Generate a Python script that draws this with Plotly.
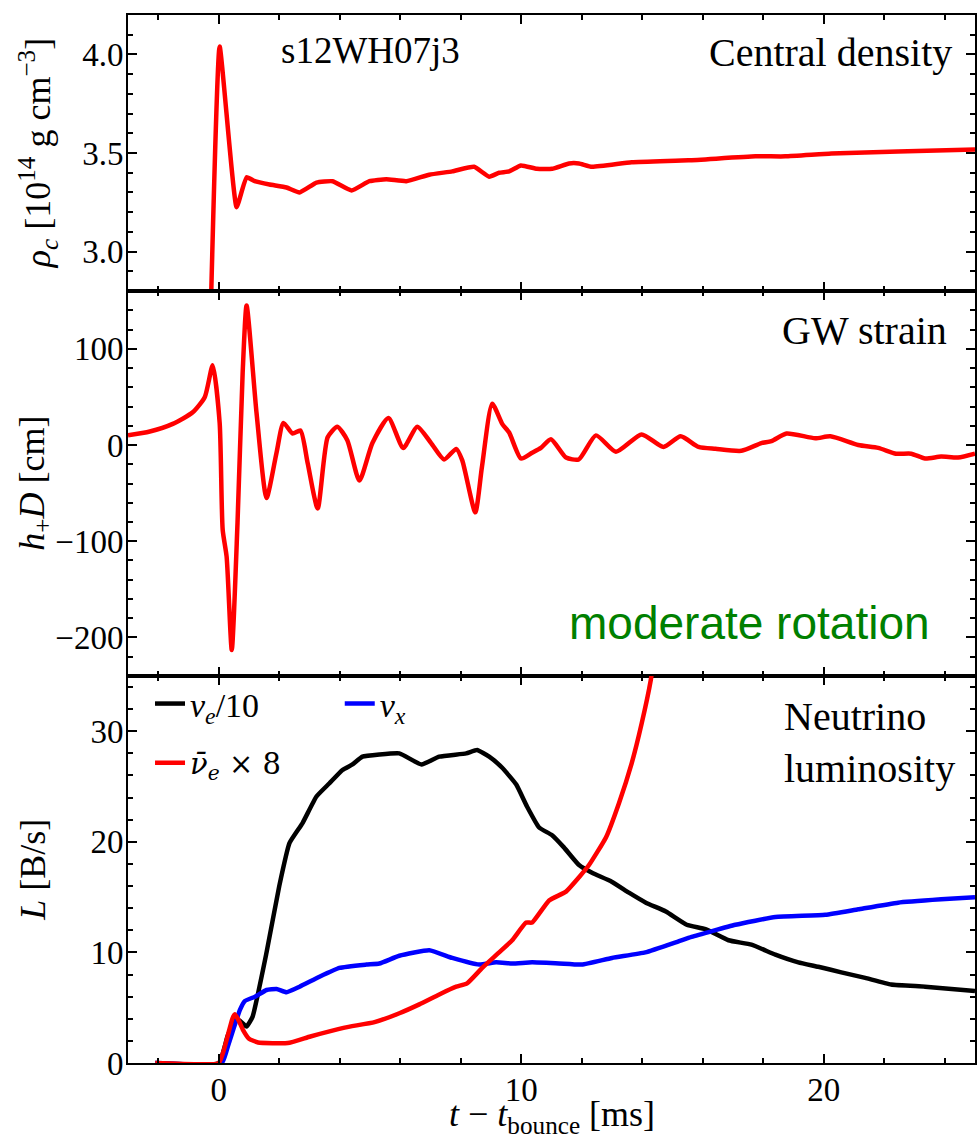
import plotly.graph_objects as go

# ---------------- data ----------------
# Central density [1e14 g/cm^3]
t_rho = [-0.28, 0.03, 0.59, 0.92, 1.19, 1.68, 2.24, 2.67, 3.23, 3.76, 4.39, 4.98, 5.54, 6.20,
         6.96, 7.72, 8.44, 8.94, 9.27, 9.60, 9.99, 10.52, 11.02, 11.58, 11.91, 12.34, 13.65,
         15.53, 17.74, 18.73, 20.25, 22.46, 25.0]
rho_c = [2.60, 4.04, 3.225, 3.377, 3.357, 3.34, 3.325, 3.30, 3.35, 3.357, 3.31, 3.357, 3.367, 3.357,
         3.39, 3.407, 3.43, 3.38, 3.40, 3.407, 3.437, 3.42, 3.42, 3.447, 3.447, 3.43, 3.453,
         3.463, 3.483, 3.483, 3.497, 3.508, 3.518]

# GW strain h+ D [cm]
t_gw = [-3.0, -2.28, -1.52, -0.86, -0.46, -0.2, 0.03, 0.13, 0.26, 0.43, 0.62, 0.79, 0.92,
        1.25, 1.58, 1.91, 2.14, 2.44, 2.70, 2.94, 3.27, 3.60, 3.92, 4.25, 4.65, 5.08, 5.61,
        6.10, 6.56, 7.02, 7.45, 7.85, 8.05, 8.48, 8.70, 9.04, 9.37, 9.60, 9.99, 10.36, 10.65,
        10.98, 11.48, 11.90, 12.47, 13.13, 13.98, 14.70, 15.27, 15.86, 16.42, 17.28, 17.94,
        18.27, 18.77, 19.72, 20.22, 21.14, 21.80, 22.39, 22.89, 23.35, 23.88, 24.44, 25.0]
h_plus = [10, 14, 22, 34, 50, 83, 23, -88, -116, -213, -81, 75, 145,
          33, -55, -8, 23, 12, 15, -19, -66, 8, 19, 5, -37, 2, 28,
          -3, 19, 2, -15, -4, -16, -70, -23, 43, 22, 13, -14, -8, -3,
          6, -13, -15, 10, -7, 11, -2, 9, -2, -4, -6, 2,
          4, 12, 7, 9, 0, -3, -9, -9, -14, -12, -13, -9]

# Neutrino luminosities [B/s]
t_nue = [-2.1, 0.0, 0.3, 0.6, 0.92, 1.12, 1.58, 2.0, 2.34, 2.77, 3.23, 3.66, 4.09, 4.42, 4.75,
         5.31, 5.97, 6.70, 7.29, 8.18, 8.54, 8.94, 9.37, 9.83, 10.19, 10.59, 11.02, 11.41,
         11.91, 12.34, 12.99, 13.56, 14.12, 14.78, 15.47, 16.09, 16.85, 17.61, 18.40, 19.16,
         19.82, 20.58, 21.37, 22.23, 23.35, 25.0]
L_nue = [0.0, 0.0, 2.5, 4.0, 3.3, 4.2, 10.0, 16.0, 19.9, 21.7, 24.1, 25.3, 26.5, 27.0, 27.7,
         27.9, 28.0, 27.0, 27.7, 28.0, 28.3, 27.7, 26.7, 25.2, 23.2, 21.3, 20.6, 19.5,
         17.9, 17.2, 16.4, 15.4, 14.5, 13.7, 12.5, 12.1, 11.1, 10.7, 9.8, 9.1,
         8.7, 8.2, 7.7, 7.1, 6.9, 6.5]

t_nux = [-2.1, 0.1, 0.3, 0.5, 0.7, 0.86, 1.2, 1.58, 1.91, 2.24, 2.67, 3.33, 3.99, 4.88, 5.31,
         5.97, 6.96, 7.72, 8.61, 9.17, 9.70, 10.36, 11.25, 12.0, 13.0, 14.1, 15.2, 15.63,
         17.08, 18.40, 20.05, 21.14, 22.46, 23.88, 25.0]
L_nux = [0.0, 0.0, 1.5, 3.2, 4.8, 5.6, 6.0, 6.6, 6.7, 6.4, 6.9, 7.8, 8.6, 8.9, 9.0,
         9.7, 10.2, 9.5, 8.9, 9.1, 9.0, 9.1, 9.0, 8.9, 9.5, 10.0, 11.0, 11.4,
         12.5, 13.2, 13.4, 13.9, 14.5, 14.8, 15.0]

t_anue = [-2.1, 0.0, 0.15, 0.3, 0.45, 0.53, 0.65, 0.8, 1.0, 1.3, 2.28, 3.03, 4.16, 5.15,
          5.97, 6.63, 7.29, 7.85, 8.21, 8.71, 9.27, 9.70, 10.16, 10.36, 10.92, 11.48, 11.91,
          12.24, 12.80, 13.23, 13.65, 13.98, 14.28, 14.45]
L_anue = [0.0, 0.0, 1.0, 2.5, 4.0, 4.4, 3.9, 3.0, 2.2, 1.85, 1.8, 2.4, 3.2, 3.7,
          4.5, 5.3, 6.2, 6.9, 7.2, 8.6, 10.0, 11.1, 12.7, 12.7, 14.7, 15.5, 16.8,
          17.9, 20.4, 23.5, 27.1, 30.7, 34.6, 38.0]

# ---------------- figure ----------------
SERIF = "Liberation Serif"
RED, BLACK, BLUE = "#ff0000", "#000000", "#0000ff"
LW = 4.5

fig = go.Figure()
fig.add_trace(go.Scatter(x=t_rho, y=rho_c, mode="lines",
                         line=dict(color=RED, width=LW, shape="spline", smoothing=0.4),
                         showlegend=False, xaxis="x", yaxis="y"))
fig.add_trace(go.Scatter(x=t_gw, y=h_plus, mode="lines",
                         line=dict(color=RED, width=LW, shape="spline", smoothing=0.6),
                         showlegend=False, xaxis="x2", yaxis="y2"))
fig.add_trace(go.Scatter(x=t_nue, y=L_nue, mode="lines",
                         line=dict(color=BLACK, width=LW, shape="spline", smoothing=0.4),
                         name="<i>ν<sub>e</sub></i>/10", legend="legend", xaxis="x3", yaxis="y3"))
fig.add_trace(go.Scatter(x=t_nux, y=L_nux, mode="lines",
                         line=dict(color=BLUE, width=LW, shape="spline", smoothing=0.4),
                         name="<i>ν<sub>x</sub></i>", legend="legend2", xaxis="x3", yaxis="y3"))
fig.add_trace(go.Scatter(x=t_anue, y=L_anue, mode="lines",
                         line=dict(color=RED, width=LW, shape="spline", smoothing=0.4),
                         name="<i>ν̄<sub>e</sub></i> × 8", legend="legend3", xaxis="x3", yaxis="y3"))

tickfont = dict(family=SERIF, size=33, color="black")

def xax(show_labels, anchor):
    return dict(range=[-3, 25], anchor=anchor,
                showline=True, linecolor="black", linewidth=2, mirror="allticks",
                ticks="inside", ticklen=9, tickwidth=2, tickcolor="black",
                dtick=10, tick0=0, showgrid=False, zeroline=False,
                showticklabels=show_labels, tickfont=tickfont, ticklabelstandoff=-4,
                minor=dict(dtick=2, tick0=0, ticks="inside", ticklen=5, tickwidth=1.5, tickcolor="black",
                           showgrid=False))

def yax(rng, dt, mdt, dom, anchor):
    return dict(range=rng, domain=dom, anchor=anchor,
                showline=True, linecolor="black", linewidth=2, mirror="allticks",
                ticks="inside", ticklen=9, tickwidth=2, tickcolor="black",
                dtick=dt, tick0=0, showgrid=False, zeroline=False,
                tickfont=tickfont, ticklabelstandoff=-4,
                minor=dict(dtick=mdt, tick0=0, ticks="inside", ticklen=5, tickwidth=1.5, tickcolor="black",
                           showgrid=False))

d_top = [0.7366, 1.0]
d_mid = [0.3693, 0.7366]
d_bot = [0.0, 0.3693]

ytop = yax([2.8, 4.2], 0.5, 0.1, d_top, "x")
ytop["tickformat"] = ".1f"

def legend_cfg(x, y, family=SERIF, size=34):
    return dict(x=x, y=y, font=dict(family=family, size=size, color="black"), bgcolor="rgba(0,0,0,0)",
                borderwidth=0, xanchor="left", yanchor="middle", orientation="h")

fig.update_layout(
    width=979, height=1139,
    margin=dict(l=128, r=2, t=15, b=76),
    paper_bgcolor="white", plot_bgcolor="white",
    xaxis=xax(False, "y"),
    xaxis2=xax(False, "y2"),
    xaxis3=xax(True, "y3"),
    yaxis=ytop,
    yaxis2=yax([-240, 160], 100, 20, d_mid, "x2"),
    yaxis3=yax([0, 35], 10, 2, d_bot, "x3"),
    legend=legend_cfg(0.026, 0.3426),
    legend2=legend_cfg(0.25, 0.3426),
    legend3=legend_cfg(0.026, 0.2863, family="DejaVu Serif", size=29),
)

ann_font = dict(family=SERIF, size=40, color="black")
annotations = [
    dict(text="s12WH07j3", xref="paper", yref="y domain", x=(279 - 128) / 849, y=(291 - 50) / 276,
         xanchor="left", yanchor="middle", showarrow=False, font=dict(family=SERIF, size=37, color="black")),
    dict(text="Central density", xref="paper", yref="y domain", x=(956 - 128) / 849, y=(291 - 52) / 276,
         xanchor="right", yanchor="middle", showarrow=False, font=ann_font),
    dict(text="GW strain", xref="paper", yref="y2 domain", x=(951 - 128) / 849, y=(676 - 330) / 385,
         xanchor="right", yanchor="middle", showarrow=False, font=ann_font),
    dict(text="moderate rotation", xref="paper", yref="y2 domain", x=(934 - 128) / 849, y=(676 - 623) / 385,
         xanchor="right", yanchor="middle", showarrow=False,
         font=dict(family="Liberation Sans", size=46, color="#008000")),
    dict(text="Neutrino<br>luminosity", xref="paper", yref="y3 domain", x=(784 - 128) / 849,
         y=(1063 - 743) / 387, xanchor="left", yanchor="middle", align="left", showarrow=False, font=ann_font),
    # axis titles
    dict(text="<i>ρ<sub>c</sub></i> [10<sup>14</sup> g cm<sup>−3</sup>]", xref="paper", yref="y domain",
         x=(38 - 128) / 849, y=0.5, xanchor="center", yanchor="middle", textangle=-90, showarrow=False,
         font=dict(family=SERIF, size=36, color="black")),
    dict(text="<i>h</i><sub>+</sub><i>D</i> [cm]", xref="paper", yref="y2 domain",
         x=(34 - 128) / 849, y=0.5, xanchor="center", yanchor="middle", textangle=-90, showarrow=False,
         font=dict(family=SERIF, size=36, color="black")),
    dict(text="<i>L</i> [B/s]", xref="paper", yref="y3 domain",
         x=(33 - 128) / 849, y=0.5, xanchor="center", yanchor="middle", textangle=-90, showarrow=False,
         font=dict(family=SERIF, size=36, color="black")),
    dict(text="<i>t</i> − <i>t</i><sub>bounce</sub> [ms]", xref="paper", yref="paper",
         x=0.5, y=-(1116 - 1063) / 1048, xanchor="center", yanchor="middle", showarrow=False,
         font=dict(family=SERIF, size=36, color="black")),
]
fig.update_layout(annotations=annotations)

fig.write_html("out.html")
